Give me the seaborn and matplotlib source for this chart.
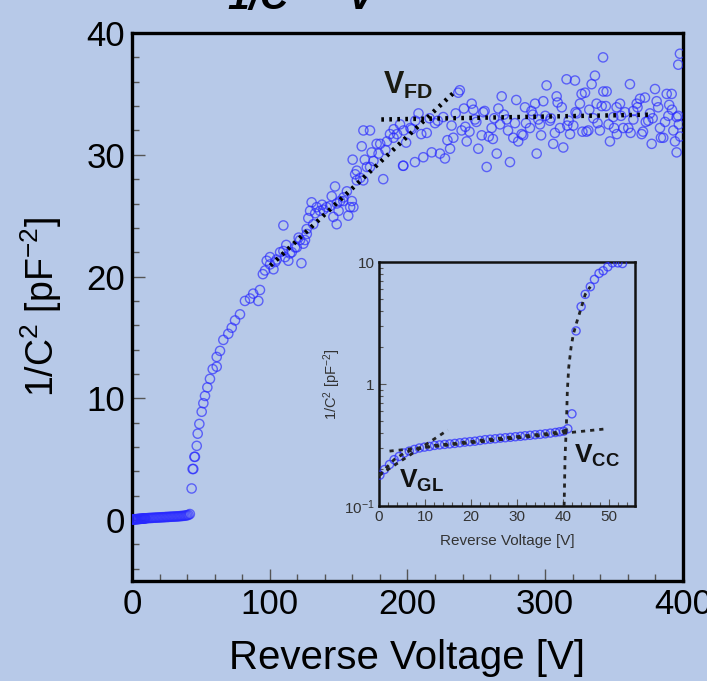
import numpy as np
import pandas as pd
import matplotlib
matplotlib.use("Agg")
import matplotlib.pyplot as plt
import matplotlib.ticker as mticker
import seaborn as sns

# ---- main plot: 1/C^2 vs reverse voltage ----
v_low = [0, 0.5, 1, 1.5, 2, 2.5, 3, 3.5, 4, 4.5, 5, 5.5, 6, 6.5, 7, 7.5, 8, 8.5,
         9, 9.5, 10, 11, 12, 13, 14, 15, 16, 17, 18, 19, 20, 21, 22, 23, 24, 25,
         26, 27, 28, 29, 30, 31, 32, 33, 34, 35, 36, 37, 38, 39, 40, 41, 42]
c_low = [0.05, 0.05, 0.06, 0.06, 0.07, 0.07, 0.08, 0.08, 0.09, 0.09, 0.10, 0.10,
         0.11, 0.11, 0.12, 0.12, 0.13, 0.13, 0.14, 0.14, 0.15, 0.16, 0.17, 0.18,
         0.18, 0.19, 0.20, 0.20, 0.21, 0.22, 0.22, 0.23, 0.24, 0.24, 0.25, 0.26,
         0.26, 0.27, 0.28, 0.28, 0.29, 0.30, 0.30, 0.31, 0.32, 0.33, 0.34, 0.35,
         0.36, 0.38, 0.40, 0.43, 0.50]

v_rise = [43.3, 44.0, 44.5, 45.3, 45.7, 47.0, 47.7, 48.9, 50.6, 51.8, 53.0, 54.7,
          56.6, 58.6, 61.5, 61.5, 63.9, 66.3, 69.9, 72.4, 74.8, 78.4, 82.0, 85.7,
          91.7, 92.9, 96.6, 97.8, 100.2, 100.2, 102.7, 105.0, 107.5, 109.9, 109.9,
          111.1, 113.5, 114.7, 116.0, 118.4, 119.6, 122.0, 123.0, 124.4, 125.6,
          126.8, 126.9, 129.3, 130.4, 131.6, 134.1, 136.5, 139.0, 141.3, 143.8,
          146.2, 147.4, 148.6, 148.7, 151.1, 153.4, 153.5, 157.0, 158.4, 159.6,
          160.2, 160.7, 163.2, 163.2, 165.7, 166.8, 167.9, 168.0, 170.5, 172.8,
          172.8, 175.3, 177.6, 179.0, 180.2, 182.4, 185.1, 187.3, 189.9, 192.4,
          194.6, 196.8, 197.2,
          88.0, 95.0, 104.0, 112.0, 121.0, 128.0, 133.0, 138.0, 145.0, 150.0,
          156.0, 162.0, 169.0, 174.0, 184.0, 190.0]
c_rise = [2.6, 4.2, 4.2, 5.2, 5.2, 6.1, 7.1, 7.9, 8.9, 9.6, 10.2, 10.9,
          11.6, 12.4, 12.6, 13.4, 13.9, 14.8, 15.3, 15.8, 16.4, 16.9, 18.0, 18.2,
          18.0, 18.9, 20.5, 21.3, 21.0, 21.6, 20.6, 21.4, 22.0, 22.1, 24.2,
          21.6, 21.3, 21.9, 22.0, 22.4, 22.4, 23.0, 21.1, 22.7, 23.0,
          23.9, 23.5, 25.4, 26.1, 24.3, 25.7, 25.4, 25.5, 25.7, 25.8,
          24.9, 27.4, 24.3, 26.0, 26.2, 26.2, 26.5, 25.0, 25.7, 26.2,
          29.6, 25.7, 28.7, 27.9, 28.1, 30.7, 27.9, 32.0, 29.0, 29.0,
          32.0, 29.5, 30.9, 30.1, 30.9, 28.0, 31.1, 31.7, 31.4, 31.7,
          32.5, 29.1, 32.0,
          18.6, 20.2, 21.2, 22.6, 23.2, 24.8, 25.2, 25.9, 26.6, 25.4,
          27.0, 28.4, 29.6, 30.2, 30.4, 32.1]

v_flat = [197.0, 202.1, 205.4, 205.7, 211.5, 217.6, 223.6, 227.2, 230.9, 233.3,
          236.9, 238.0, 239.3, 243.0, 246.6, 247.8, 251.4, 253.9, 257.5, 261.1,
          264.8, 267.2, 268.4, 272.0, 274.4, 276.8, 280.4, 282.9, 285.3, 288.9,
          292.6, 293.8, 296.2, 298.6, 301.0, 303.4, 305.8, 308.3, 310.7, 313.1,
          315.5, 318.0, 320.4, 321.6, 325.2, 326.4, 328.9, 331.3, 333.7, 336.1,
          337.3, 339.7, 342.0, 342.2, 344.6, 347.0, 349.4, 351.8, 354.3, 356.7,
          360.3, 361.5, 363.9, 366.4, 368.8, 370.0, 372.4, 374.8, 377.3, 379.7,
          380.9, 383.3, 385.7, 388.2, 389.4, 391.8, 393.0, 394.2, 395.4, 395.4,
          396.6, 396.6, 397.8,
          199.0, 208.0, 214.0, 220.0, 226.0, 232.0, 241.0, 245.0, 250.0, 255.0,
          259.0, 263.0, 270.0, 278.0, 284.0, 290.0, 295.0, 300.0, 307.0, 312.0,
          317.0, 323.0, 330.0, 335.0, 341.0, 346.0, 352.0, 358.0, 364.0, 371.0,
          376.0, 382.0, 387.0, 392.0, 398.0,
          203.0, 210.0, 216.0, 222.0, 229.0, 235.0, 242.0, 249.0, 256.0, 262.0,
          266.0, 273.0, 279.0, 286.0, 291.0, 297.0, 304.0, 309.0, 316.0, 322.0,
          327.0, 332.0, 338.0, 344.0, 350.0, 355.0, 362.0, 367.0, 373.0, 378.0,
          384.0, 390.0, 397.0]
c_flat = [29.1, 32.2, 29.4, 32.8, 29.8, 30.2, 30.1, 29.7, 30.5, 31.4,
          35.1, 35.3, 32.0, 31.1, 34.2, 33.7, 30.5, 31.6, 29.0, 32.2,
          30.1, 32.5, 34.8, 32.9, 29.4, 31.4, 31.1, 31.7, 33.9, 32.2,
          34.2, 30.1, 32.5, 34.4, 35.7, 32.8, 30.9, 34.8, 32.2, 30.6,
          36.2, 31.7, 32.4, 36.1, 34.2, 35.0, 35.1, 32.0, 35.8, 36.5,
          34.2, 32.0, 38.0, 35.2, 35.2, 31.1, 33.1, 33.9, 34.2, 32.2,
          32.2, 35.8, 33.6, 34.2, 34.6, 31.7, 34.7, 32.8, 30.9, 35.4,
          34.4, 32.2, 31.4, 35.0, 33.2, 35.0, 32.0, 31.1, 33.1, 30.2,
          33.2, 37.4, 38.3,
          31.0, 33.4, 31.8, 32.6, 33.1, 32.4, 33.8, 31.9, 32.7, 33.5,
          31.5, 33.0, 33.3, 32.6, 31.6, 33.6, 32.9, 33.2, 31.8, 33.9,
          32.8, 33.4, 31.9, 33.0, 34.0, 32.5, 31.7, 33.5, 32.9, 31.9,
          33.4, 33.9, 32.7, 33.7, 31.5,
          32.1, 31.7, 33.0, 32.8, 31.2, 33.4, 32.3, 32.9, 33.6, 31.3,
          33.8, 32.0, 34.5, 32.6, 33.3, 31.6, 33.0, 34.3, 32.4, 33.5,
          31.9, 33.7, 32.6, 34.0, 32.2, 33.2, 31.8, 33.9, 32.7, 33.0,
          31.4, 34.1, 32.5]

# fit lines (dotted)
fd_rise_v = [100.5, 234.5]
fd_rise_c = [20.9, 35.2]
fd_flat_v = [181.0, 378.0]
fd_flat_c = [32.9, 33.3]

main_xticks = [0, 100, 200, 300, 400]
main_yticks = [0, 10, 20, 30, 40]

# ---- inset: log scale, low voltage ----
v_in = [0.2, 1.2, 2.3, 3.3, 4.4, 5.5, 6.6, 7.7, 8.8, 9.9, 11.0, 12.1, 13.2,
        14.3, 15.4, 16.5, 17.6, 18.7, 19.8, 20.9, 22.0, 23.1, 24.2, 25.3,
        26.4, 27.5, 28.6, 29.7, 30.8, 31.8, 32.9, 34.0, 35.1, 36.2, 37.3,
        38.4, 39.3, 40.2, 41.1, 42.0, 42.9, 44.0, 44.9, 46.0, 46.9, 47.9,
        48.8, 49.8, 50.8, 52.0, 53.0]
c_in = [0.179, 0.199, 0.219, 0.240, 0.255, 0.272, 0.282, 0.291, 0.299, 0.304,
        0.308, 0.314, 0.317, 0.320, 0.323, 0.326, 0.330, 0.334, 0.337, 0.340,
        0.345, 0.350, 0.353, 0.356, 0.360, 0.363, 0.366, 0.370, 0.373, 0.377,
        0.380, 0.384, 0.387, 0.391, 0.396, 0.401, 0.406, 0.411, 0.430, 0.570,
        2.73, 4.32, 5.45, 6.29, 7.22, 8.09, 8.50, 9.16, 9.87, 9.87, 9.75]

gl_steep_v = [0.0, 15.0]
gl_steep_c = [0.178, 0.42]
gl_flat_v = [2.3, 49.6]
gl_flat_c = [0.282, 0.43]
cc_v = [40.3, 40.5, 40.8, 41.0, 41.3, 41.8, 42.3, 43.0, 44.0, 44.9, 46.0]
cc_c = [0.1, 0.25, 0.47, 0.88, 1.37, 1.99, 2.56, 3.18, 4.2, 5.45, 6.3]

inset_xticks = [0, 10, 20, 30, 40, 50]
inset_yticks = [0.1, 1, 10]
inset_ylabels = ['$10^{-1}$', '1', '10']

main_df = pd.DataFrame({'V': v_low + v_rise + v_flat,
                        'C': c_low + c_rise + c_flat})
inset_df = pd.DataFrame({'V': v_in, 'C': c_in})

sns.set_style("white")
bg = '#B7C9E8'
plt.rcParams['font.family'] = ['Liberation Sans', 'DejaVu Sans']
plt.rcParams['mathtext.fontset'] = 'custom'
plt.rcParams['mathtext.rm'] = 'Liberation Sans'
plt.rcParams['mathtext.it'] = 'Liberation Sans:italic'
plt.rcParams['mathtext.bf'] = 'Liberation Sans:bold'
plt.rcParams['text.color'] = 'black'
plt.rcParams['axes.labelcolor'] = 'black'

fig = plt.figure(figsize=(7.07, 6.81), dpi=100)
fig.patch.set_facecolor(bg)

ax = fig.add_axes([0.1867, 0.1468, 0.7793, 0.8047])
ax.set_facecolor('none')
sns.scatterplot(data=main_df, x='V', y='C', ax=ax, marker='o', s=44,
                facecolor='none', edgecolor='#2828ff', linewidth=1.0,
                alpha=0.65, zorder=3)
ax.plot(fd_rise_v, fd_rise_c, color='black', lw=3.2,
        linestyle=(0, (0.6, 1.2)), dash_capstyle='butt', zorder=4)
ax.plot(fd_flat_v, fd_flat_c, color='black', lw=3.2,
        linestyle=(0, (0.6, 1.2)), dash_capstyle='butt', zorder=4)
ax.set_xlim(0, 400)
ax.set_ylim(-5, 40)
ax.set_xticks(main_xticks)
ax.set_yticks(main_yticks)
ax.xaxis.set_minor_locator(mticker.MultipleLocator(20))
ax.yaxis.set_minor_locator(mticker.MultipleLocator(2))
ax.tick_params(which='both', direction='in', color='#555555', width=1.0,
               labelsize=25, labelcolor='black', pad=5, bottom=True, left=True)
ax.tick_params(which='major', length=9)
ax.tick_params(which='minor', length=5)
for sp in ax.spines.values():
    sp.set_linewidth(2.4)
    sp.set_color('black')
ax.set_xlabel('Reverse Voltage [V]', fontsize=29)
ax.xaxis.set_label_coords(0.5, -0.105)
ax.set_ylabel('1/C$^2$ [pF$^{-2}$]', fontsize=27)
ax.yaxis.set_label_coords(-0.123, 0.5)
ax.text(182, 35.0, r'$\mathbf{V}_{\mathbf{FD}}$', fontsize=22, color='#1a1a10')

fig.text(0.321, 0.986, r'1/C$^{2}$ – V', fontsize=28, fontweight='bold',
         fontstyle='italic', ha='left', va='baseline')

# inset
axi = fig.add_axes([0.536, 0.257, 0.362, 0.358])
axi.set_facecolor('none')
sns.scatterplot(data=inset_df, x='V', y='C', ax=axi, marker='o', s=34,
                facecolor='none', edgecolor='#2828ff', linewidth=1.0,
                alpha=0.7, zorder=3)
for xs, ys in [(v_in[:39], c_in[:39]), (gl_steep_v, gl_steep_c),
               (gl_flat_v, gl_flat_c), (cc_v, cc_c)]:
    axi.plot(xs, ys, color='#222222', lw=2.0, linestyle=(0, (1.5, 1.8)),
             zorder=4)
axi.set_yscale('log')
axi.set_xlim(0, 55.7)
axi.set_ylim(0.1, 10)
axi.set_xticks(inset_xticks)
axi.xaxis.set_minor_locator(mticker.MultipleLocator(2))
axi.set_yticks(inset_yticks)
axi.yaxis.set_major_formatter(mticker.FixedFormatter(inset_ylabels))
axi.yaxis.set_minor_locator(mticker.LogLocator(base=10, subs=np.arange(2, 10)))
axi.yaxis.set_minor_formatter(mticker.NullFormatter())
axi.tick_params(which='both', direction='in', color='#555555', width=0.8,
                labelsize=11, labelcolor='#333333', pad=3,
                bottom=True, left=True)
axi.tick_params(which='major', length=5)
axi.tick_params(which='minor', length=3)
for sp in axi.spines.values():
    sp.set_linewidth(1.8)
    sp.set_color('#111111')
axi.set_xlabel('Reverse Voltage [V]', fontsize=11, color='#333333', labelpad=7)
axi.set_ylabel('1/C$^2$ [pF$^{-2}$]', fontsize=10.5, color='#333333', labelpad=1)
axi.text(4.4, 0.142, r'$\mathbf{V}_{\mathbf{GL}}$', fontsize=19, color='#111111')
axi.text(42.4, 0.228, r'$\mathbf{V}_{\mathbf{CC}}$', fontsize=19, color='#111111')

fig.savefig('out.png', dpi=100, facecolor=bg)
